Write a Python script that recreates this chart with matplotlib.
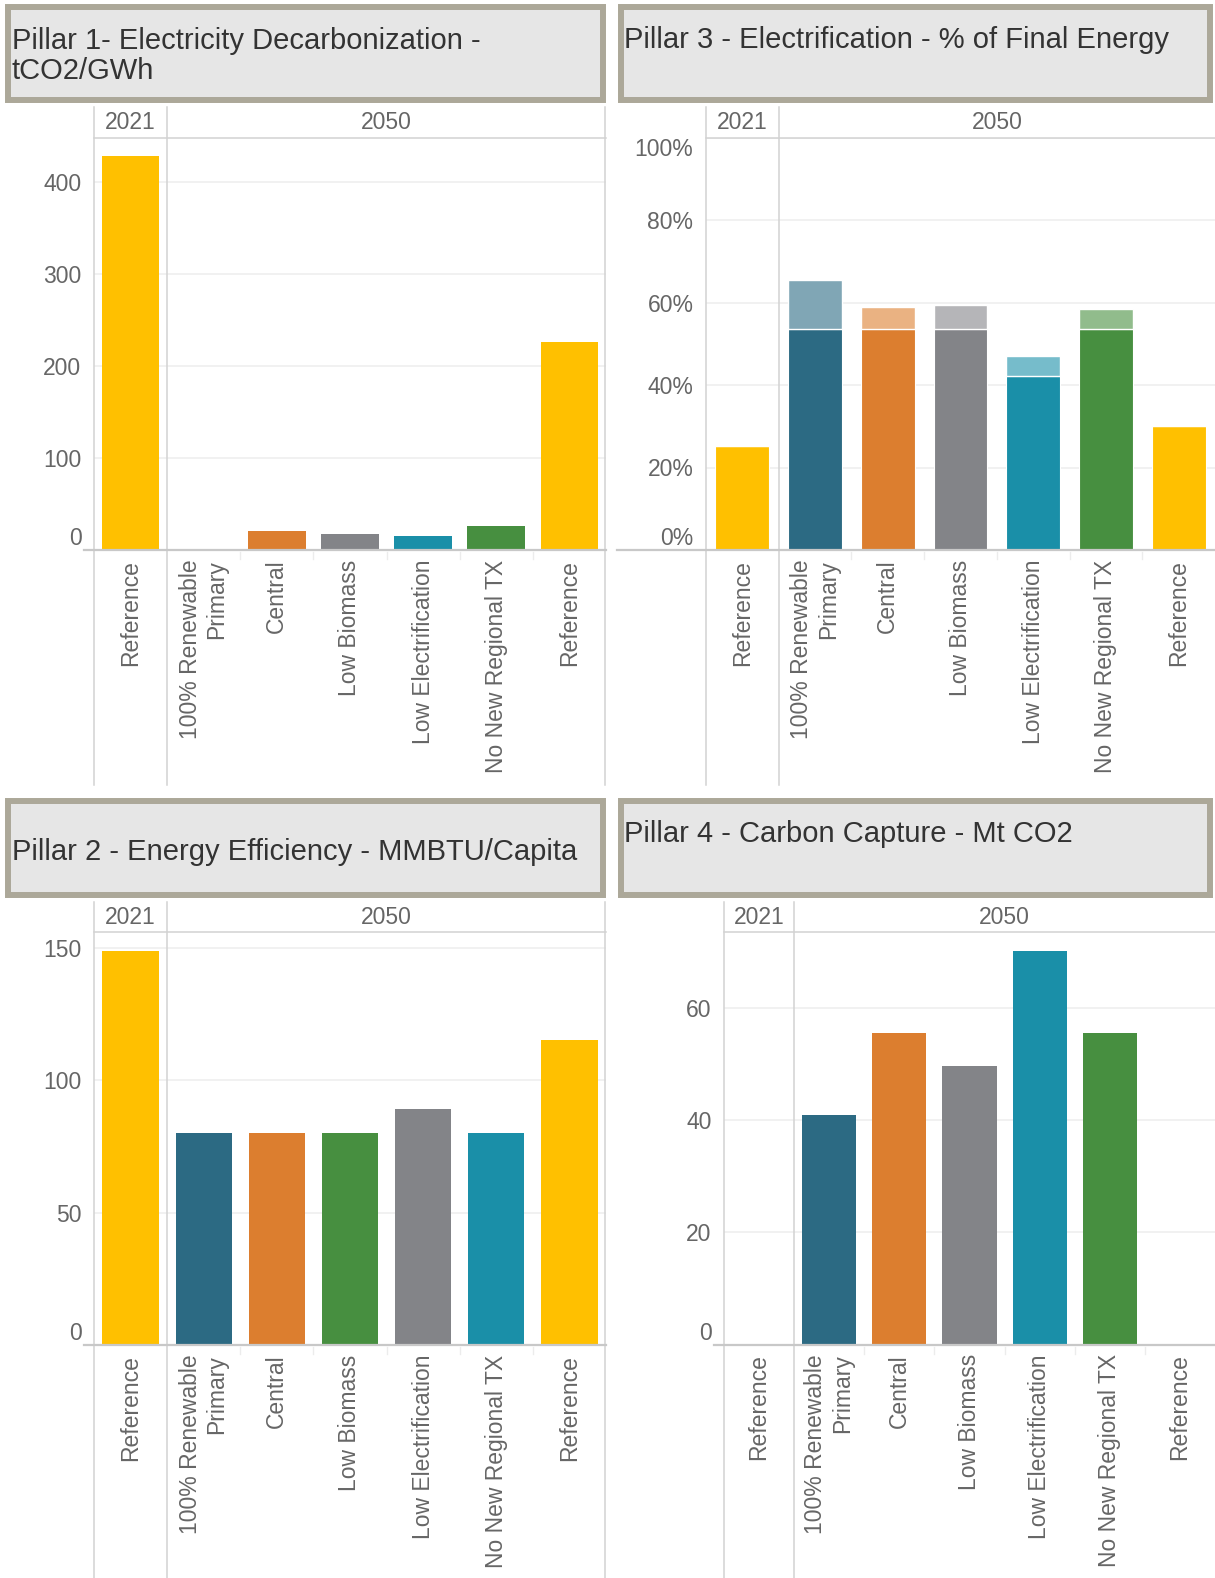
import matplotlib.pyplot as plt
from matplotlib.patches import Rectangle
from matplotlib.lines import Line2D
from matplotlib.colors import to_rgb
import numpy as np

plt.rcParams['font.family'] = ['Liberation Sans', 'DejaVu Sans']

W, H = 1215, 1578

scenarios = ["Reference", "100% Renewable\nPrimary", "Central", "Low Biomass",
             "Low Electrification", "No New Regional TX", "Reference"]
years = ["2021", "2050"]

# values: Reference 2021, then the six 2050 bars
p1_tco2_gwh = [428, 0, 20.6, 17.4, 15.2, 26, 226]
p3_elec_base = [25.3, 53.6, 53.6, 53.6, 42.2, 53.6, 30.0]
p3_elec_total = [25.3, 65.5, 58.8, 59.5, 47.1, 58.5, 30.0]
p2_mmbtu_capita = [149, 80, 80, 80, 89, 80, 115.3]
p4_mt_co2 = [0, 40.9, 55.6, 49.7, 70.2, 55.6, 0]

p1_ticks = [0, 100, 200, 300, 400]
p3_ticks = [0, 20, 40, 60, 80, 100]
p2_ticks = [0, 50, 100, 150]
p4_ticks = [0, 20, 40, 60]

YELLOW = '#FFC000'
BLUE = '#2C6A83'
ORANGE = '#DC7E2F'
GRAY = '#838488'
TEAL = '#1A8FA8'
GREEN = '#478F40'
colors_std = [YELLOW, BLUE, ORANGE, GRAY, TEAL, GREEN, YELLOW]
colors_p2 = [YELLOW, BLUE, ORANGE, GREEN, GRAY, TEAL, YELLOW]

GRID = '#efefef'
LINE = '#d2d2d2'
TXT = '#666666'
FS = 16.5

fig = plt.figure(figsize=(W / 100, H / 100), dpi=100)


def rect(x0, y0, x1, y1):
    return [x0 / W, 1 - y1 / H, (x1 - x0) / W, (y1 - y0) / H]


def line(xs, ys, color=LINE, lw=1.1):
    fig.add_artist(Line2D([x / W for x in xs], [1 - y / H for y in ys],
                          color=color, lw=lw, transform=fig.transFigure))


def title_box(x0, y0, x1, y1, text, tx, ty):
    # border is ~6px thick, path drawn through its middle
    fig.add_artist(Rectangle((x0 / W, 1 - y1 / H), (x1 - x0) / W, (y1 - y0) / H,
                             transform=fig.transFigure, facecolor='#e6e6e6',
                             edgecolor='#aca899', lw=4.3))
    fig.text(tx / W, 1 - ty / H, text, fontsize=21, color='#333333',
             ha='left', va='center', linespacing=1.1)


def lighten(c, f=0.6):
    r = np.array(to_rgb(c))
    return tuple(r * f + (1 - f))


def panel(x0, x1, htop, hbot, base, bottom, vals, colors, ymax, ticks, labels,
          width, stack_top=None, base_left=None, right_line=True):
    ax = fig.add_axes(rect(x0, hbot, x1, base))
    hx = fig.add_axes(rect(x0, htop, x1, hbot))
    x = np.arange(len(scenarios))

    if stack_top is None:
        ax.bar(x, vals, width, color=colors, zorder=2)
    else:
        ax.bar(x, vals, width, color=colors, edgecolor='white', lw=0.8, zorder=2)
        extra = np.array(stack_top) - np.array(vals)
        ax.bar(x, extra, width, bottom=vals, color=[lighten(c) for c in colors],
               edgecolor='white', lw=1.0, zorder=2)

    ax.set_xlim(-0.5, 6.5)
    ax.set_ylim(0, ymax)
    ax.set_yticks(ticks, labels)
    ax.set_xticks(x, scenarios, rotation=90, ha='center', va='top',
                  multialignment='right')
    ax.tick_params(axis='both', length=0, labelsize=FS, labelcolor=TXT)
    ax.tick_params(axis='y', pad=9)
    ax.tick_params(axis='x', pad=7)
    ax.grid(axis='y', color=GRID, lw=1.2)
    ax.set_axisbelow(True)
    for s in ax.spines.values():
        s.set_visible(False)
    tl = ax.get_yticklabels()
    tl[0].set_va('bottom')
    if ticks[-1] >= ymax - 1e-6:
        tl[-1].set_va('top')

    hx.set_xlim(-0.5, 6.5)
    hx.set_ylim(0, 1)
    hx.axis('off')
    hx.text(0, 0.5, years[0], ha='center', va='center', fontsize=FS, color=TXT)
    hx.text(3.5, 0.5, years[1], ha='center', va='center', fontsize=FS, color=TXT)

    # frame lines
    sep = x0 + (x1 - x0) / 7
    line([x0, x0], [htop, bottom])
    line([sep, sep], [htop, bottom])
    if right_line:
        line([x1 - 1, x1 - 1], [htop, bottom])
    line([x0, x1], [hbot, hbot])
    bl = base_left if base_left is not None else x0 - 10
    line([bl, x1], [base, base], color='#c8c8c8', lw=1.6)
    for k in range(2, 7):
        xs = x0 + (x1 - x0) * k / 7
        line([xs, xs], [base + 2, base + 9], color='#ececec', lw=1.0)
    return ax


# Pillar 1
title_box(8, 7, 603, 100, "Pillar 1- Electricity Decarbonization -\ntCO2/GWh", 12, 56)
panel(94, 606, 107, 137.5, 550, 785, p1_tco2_gwh, colors_std, 448.5,
      p1_ticks, [str(t) for t in p1_ticks], 0.79)

# Pillar 3
title_box(621, 7, 1210, 100, "Pillar 3 - Electrification - % of Final Energy", 624, 40.5)
panel(706, 1215, 107, 137.5, 550, 785, p3_elec_base, colors_std, 100,
      p3_ticks, [f"{t}%" for t in p3_ticks], 0.74, stack_top=p3_elec_total,
      base_left=617, right_line=False)

# Pillar 2
title_box(8, 801, 603, 895, "Pillar 2 - Energy Efficiency - MMBTU/Capita", 12, 851.5)
panel(94, 606, 902, 932, 1345, 1578, p2_mmbtu_capita, colors_p2, 156,
      p2_ticks, [str(t) for t in p2_ticks], 0.77)

# Pillar 4
title_box(621, 801, 1210, 895, "Pillar 4 - Carbon Capture - Mt CO2", 624, 834)
panel(724, 1215, 902, 932, 1344.5, 1578, p4_mt_co2, colors_std, 73.6,
      p4_ticks, [str(t) for t in p4_ticks], 0.77, right_line=False)

fig.savefig('out.png', dpi=100)
